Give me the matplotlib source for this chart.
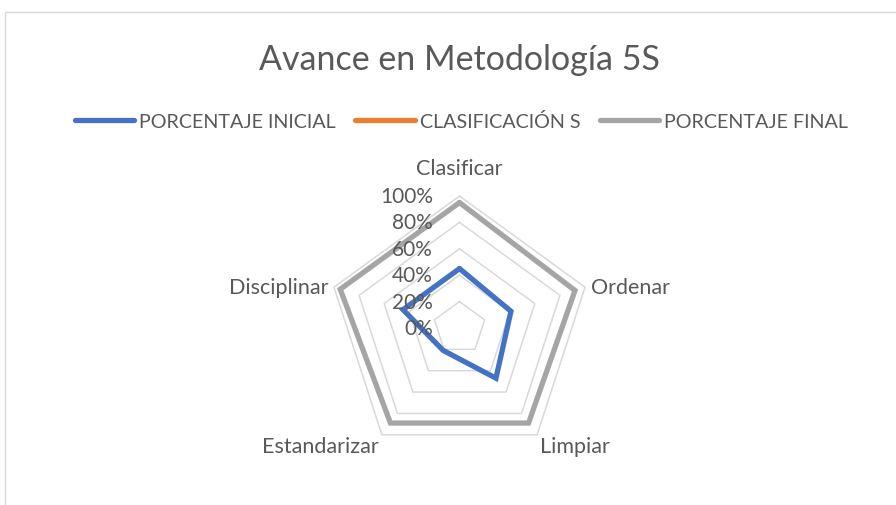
import numpy as np
import matplotlib.pyplot as plt
from matplotlib.patches import Rectangle

# data
categories = ['Clasificar', 'Ordenar', 'Limpiar', 'Estandarizar', 'Disciplinar']
inicial = [45, 41, 47, 21, 45]
final = [95, 92, 89, 89, 95]
clasificacion = []  # series in legend, nothing drawn
ring_values = [20, 40, 60, 80, 100]
tick_labels = ['0%', '20%', '40%', '60%', '80%', '100%']

plt.rcParams['font.family'] = ['Lato', 'DejaVu Sans']
text_col = '#595959'
grid_col = '#D9D9D9'

W, H = 896, 506
fig = plt.figure(figsize=(W / 100, H / 100), dpi=100)

# axes in percent units, 100% = 132 px, centre at (459.5, 329) px
scale = 1.32
cx, cy = 459.5, 329
ax = fig.add_axes([0, 0, 1, 1])
ax.set_xlim(-cx / scale, (W - cx) / scale)
ax.set_ylim(-(H - cy) / scale, cy / scale)
ax.axis('off')

n = len(categories)
angles = np.pi / 2 - np.arange(n) * 2 * np.pi / n
ang_closed = np.append(angles, angles[0])


def xy(vals):
    v = np.append(np.asarray(vals, float), vals[0])
    return v * np.cos(ang_closed), v * np.sin(ang_closed)


# gridline pentagons
for r in ring_values:
    gx, gy = xy([r] * n)
    ax.plot(gx, gy, color=grid_col, lw=1.1, zorder=1)

# series
bx, by = xy(inicial)
ax.plot(bx, by, color='#4472C4', lw=3.8, solid_joinstyle='miter',
        solid_capstyle='round', label='PORCENTAJE INICIAL', zorder=3)
ax.plot(clasificacion, clasificacion, color='#ED7D31', lw=3.8,
        solid_capstyle='round', label='CLASIFICACIÓN S')
fx, fy = xy(final)
ax.plot(fx, fy, color='#A5A5A5', lw=3.8, solid_joinstyle='miter',
        solid_capstyle='round', label='PORCENTAJE FINAL', zorder=2)

# radial tick labels
for i, lab in enumerate(tick_labels):
    ax.text(-20, i * 20, lab, ha='right', va='center', fontsize=15,
            color=text_col, zorder=4)

# category labels
offsets = [(0, 13, 'center', 'bottom'), (4, 0, 'left', 'center'),
           (2, -1, 'left', 'top'), (-2, -1, 'right', 'top'),
           (-4, 0, 'right', 'center')]
for a, cat, (dx, dy, ha, va) in zip(angles, categories, offsets):
    ax.annotate(cat, (100 * np.cos(a), 100 * np.sin(a)), xytext=(dx, dy),
                textcoords='offset points', ha=ha, va=va, fontsize=15.5,
                color=text_col)

fig.text(0.513, 1 - 60 / H, 'Avance en Metodología 5S', ha='center',
         va='center', fontsize=24.5, color=text_col)

leg = fig.legend(loc='center', bbox_to_anchor=(0.515, 1 - 122 / H), ncol=3,
                 frameon=False, fontsize=14.2, handlelength=3.0,
                 handletextpad=0.25, columnspacing=1.0, labelcolor=text_col)

fig.patches.append(Rectangle((5 / W, -0.1), 1.2, 1.1 - 13 / H,
                             transform=fig.transFigure, fill=False,
                             edgecolor=grid_col, lw=1.0))

fig.savefig('out.png', dpi=100)
